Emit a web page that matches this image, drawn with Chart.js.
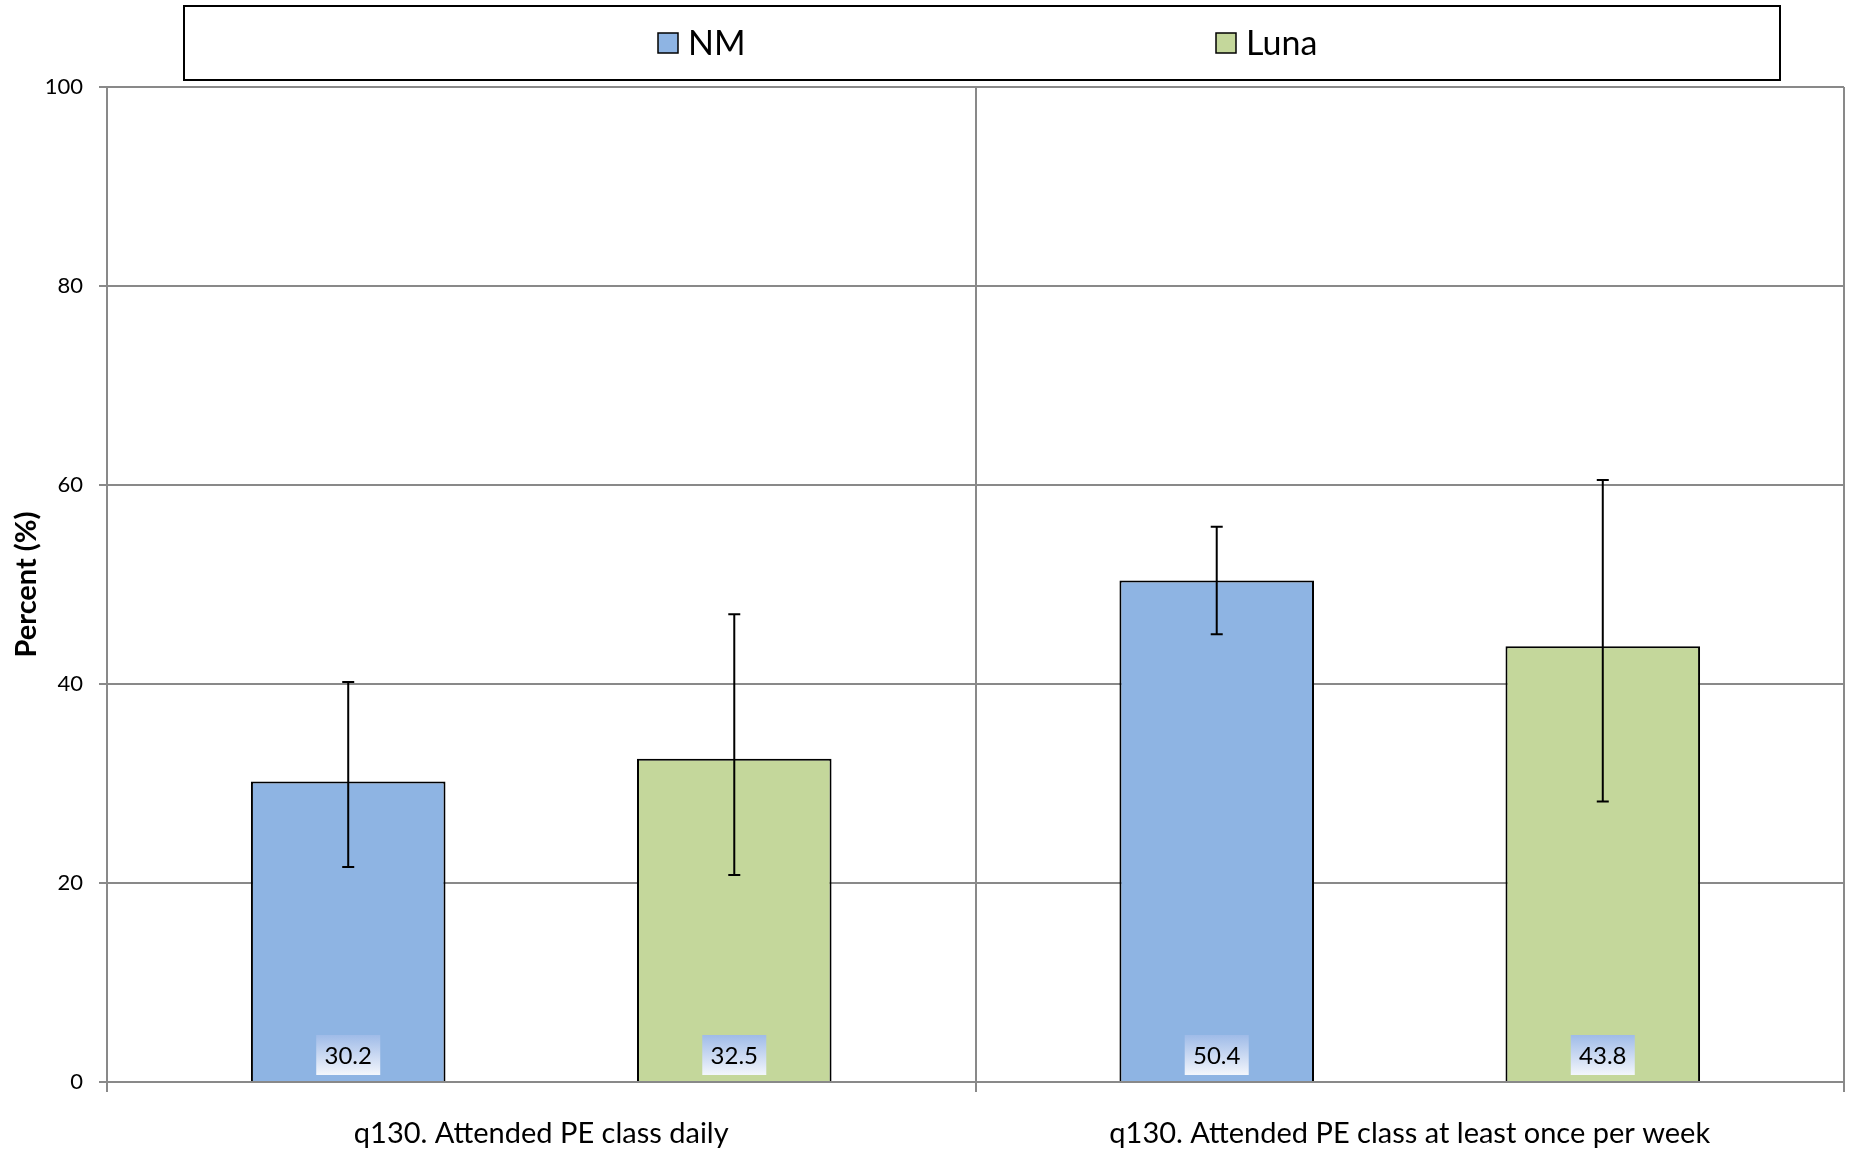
<!DOCTYPE html>
<html lang="en">
<head>
  <meta charset="UTF-8">
  <title>PE class attendance</title>
  <script src="https://cdn.jsdelivr.net/npm/chart.js"></script>
  <style>
    body { margin: 0; background: #fff; }
  </style>
</head>
<body>
  <canvas id="peChart" width="1851" height="1152"></canvas>
  <script>
    const categories = ['q130. Attended PE class daily', 'q130. Attended PE class at least once per week']
    const seriesNames = ['NM', 'Luna']
    const nmValues = [30.2, 50.4]
    const lunaValues = [32.5, 43.8]
    const nmLower = [21.6, 45.0]
    const nmUpper = [40.2, 55.8]
    const lunaLower = [20.8, 28.2]
    const lunaUpper = [47.0, 60.5]
    const seriesColors = ['#8EB4E3', '#C4D79B']

    const FONT = 'Lato, "Open Sans", sans-serif'
    const GRID = '#898989'

    // error bars + value boxes at the bottom of each bar
    const barExtras = {
      id: 'barExtras',
      afterDatasetsDraw(chart) {
        const ctx = chart.ctx
        const y = chart.scales.y
        chart.data.datasets.forEach((ds, di) => {
          const meta = chart.getDatasetMeta(di)
          meta.data.forEach((bar, i) => {
            const x = bar.x
            // error bar
            const top = y.getPixelForValue(ds.upper[i])
            const bot = y.getPixelForValue(ds.lower[i])
            ctx.save()
            ctx.strokeStyle = '#000'
            ctx.lineWidth = 2
            ctx.beginPath()
            ctx.moveTo(x, top); ctx.lineTo(x, bot)
            ctx.moveTo(x - 6, top); ctx.lineTo(x + 6, top)
            ctx.moveTo(x - 6, bot); ctx.lineTo(x + 6, bot)
            ctx.stroke()
            ctx.restore()

            // value label
            const base = y.getPixelForValue(0)
            const w = 64, h = 40
            const bx = x - w / 2, by = base - 7 - h
            ctx.save()
            const g = ctx.createLinearGradient(0, by, 0, by + h)
            g.addColorStop(0, '#9fbbe8')
            g.addColorStop(1, '#f3f6fc')
            ctx.fillStyle = g
            ctx.fillRect(bx, by, w, h)
            ctx.fillStyle = '#000'
            ctx.font = '24px ' + FONT
            ctx.textAlign = 'center'
            ctx.textBaseline = 'middle'
            ctx.fillText(ds.data[i].toFixed(1), x, by + h / 2 + 1)
            ctx.restore()
          })
        })
      }
    }

    // boxed legend spread across the top like the original
    const boxLegend = {
      id: 'boxLegend',
      afterDraw(chart) {
        const ctx = chart.ctx
        ctx.save()
        ctx.strokeStyle = '#000'
        ctx.lineWidth = 2
        ctx.strokeRect(184, 6, 1596, 74)
        const itemX = [658, 1216]
        chart.data.datasets.forEach((ds, i) => {
          const x = itemX[i]
          ctx.fillStyle = ds.backgroundColor
          ctx.fillRect(x, 33, 20, 20)
          ctx.lineWidth = 1.5
          ctx.strokeRect(x, 33, 20, 20)
          ctx.fillStyle = '#000'
          ctx.font = '34px ' + FONT
          ctx.textAlign = 'left'
          ctx.textBaseline = 'middle'
          ctx.fillText(ds.label, x + 30, 44)
        })
        ctx.restore()
      }
    }

    new Chart(document.getElementById('peChart'), {
      type: 'bar',
      data: {
        labels: categories,
        datasets: [
          {
            label: seriesNames[0],
            data: nmValues,
            lower: nmLower,
            upper: nmUpper,
            backgroundColor: seriesColors[0],
            borderColor: '#000',
            borderWidth: 2,
          },
          {
            label: seriesNames[1],
            data: lunaValues,
            lower: lunaLower,
            upper: lunaUpper,
            backgroundColor: seriesColors[1],
            borderColor: '#000',
            borderWidth: 2,
          }
        ]
      },
      options: {
        responsive: false,
        animation: false,
        categoryPercentage: 0.889,
        barPercentage: 0.504,
        layout: { padding: { top: 87, right: 7, left: 0, bottom: 0 } },
        plugins: {
          legend: { display: false },
          tooltip: { enabled: false },
        },
        scales: {
          x: {
            grid: { color: GRID, lineWidth: 2, tickLength: 10, offset: true },
            border: { color: GRID, width: 2 },
            ticks: { color: '#000', font: { family: FONT, size: 29 }, padding: 24 },
            afterFit: (scale) => { scale.height = 70 },
          },
          y: {
            min: 0,
            max: 100,
            ticks: { stepSize: 20, color: '#000', font: { family: FONT, size: 22 }, padding: 16 },
            grid: { color: GRID, lineWidth: 2, tickLength: 8 },
            border: { color: GRID, width: 2 },
            title: {
              display: true,
              text: 'Percent (%)',
              color: '#000',
              font: { family: FONT, size: 29, weight: 'bold' },
              padding: { top: 9, bottom: 0 },
            },
            afterFit: (scale) => { scale.width = 107 },
          }
        }
      },
      plugins: [barExtras, boxLegend]
    })
  </script>
</body>
</html>
